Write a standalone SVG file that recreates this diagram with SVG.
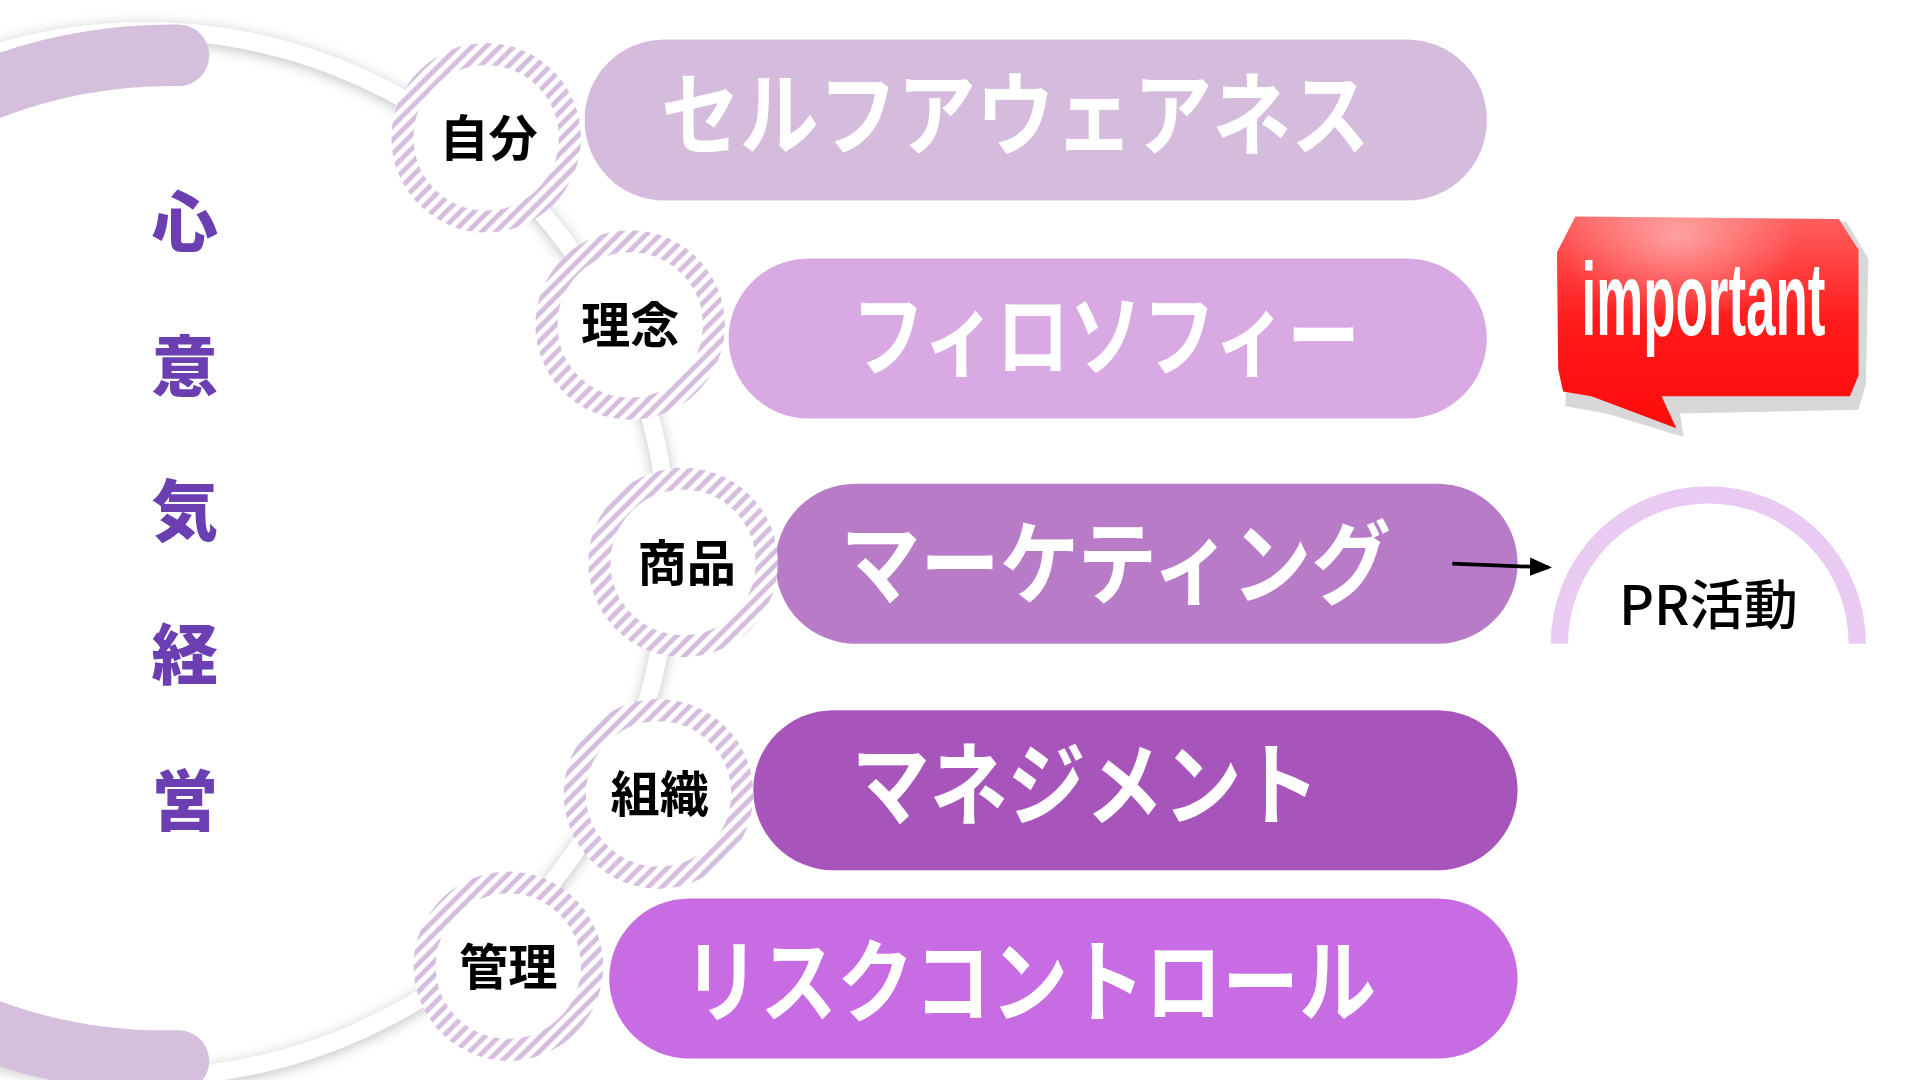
<svg xmlns="http://www.w3.org/2000/svg" width="1920" height="1080" viewBox="0 0 1920 1080">
<defs>
<style>
.lbl{font-family:"Noto Sans CJK JP",sans-serif;font-weight:700;font-size:40px;fill:#000;text-anchor:middle}
.pt{font-family:"Noto Sans CJK JP",sans-serif;font-weight:700;font-size:74px;fill:#fff}
.vt{font-family:"Noto Sans CJK JP",sans-serif;font-weight:900;font-size:54px;fill:#6b3fb2;text-anchor:middle}
.hc{fill:#fff;stroke:url(#hatch);stroke-width:18}
</style>
<pattern id="hatch" width="8" height="8" patternUnits="userSpaceOnUse" patternTransform="rotate(45)">
<rect width="8" height="8" fill="#fff"/><rect width="4" height="8" fill="#d6bedf"/>
</pattern>
<filter id="sh" x="-20%" y="-20%" width="140%" height="140%"><feDropShadow dx="0" dy="2" stdDeviation="5" flood-color="#000" flood-opacity="0.25"/></filter>
<linearGradient id="red" x1="0" y1="0" x2="0" y2="1">
<stop offset="0" stop-color="#ff6060"/><stop offset="0.5" stop-color="#ff1a1a"/><stop offset="1" stop-color="#ff0a0a"/>
</linearGradient>
<radialGradient id="hl" cx="0.4" cy="0.1" r="0.4"><stop offset="0" stop-color="#fff" stop-opacity="0.45"/><stop offset="1" stop-color="#fff" stop-opacity="0"/></radialGradient>
<marker id="ar" markerWidth="6" markerHeight="5" refX="5" refY="2.5" orient="auto"><path d="M0,0 L6,2.5 L0,5 z" fill="#000"/></marker>
</defs>
<rect width="1920" height="1080" fill="#fff"/>
<g transform="scale(1.2308)">
<g id="ring">
<circle cx="118" cy="450" r="425" fill="none" stroke="#fff" stroke-width="14" filter="url(#sh)"/>
<path d="M-40,86 A415,415 0 0 1 145,45" fill="none" stroke="#d5bfdc" stroke-width="50" stroke-linecap="round"/>
<path d="M-40,824 A415,415 0 0 0 145,862" fill="none" stroke="#d5bfdc" stroke-width="50" stroke-linecap="round"/>
</g>
<g id="title">
<text class="vt" x="150" y="200">心</text>
<text class="vt" x="150" y="318">意</text>
<text class="vt" x="150" y="435">気</text>
<text class="vt" x="150" y="552">経</text>
<text class="vt" x="150" y="670">営</text>
</g>
<g id="n1"><rect x="475" y="32" width="733" height="131" rx="65" fill="#d5bcdc"/><text class="pt" x="537" y="120" textLength="576" lengthAdjust="spacingAndGlyphs">セルフアウェアネス</text></g>
<g id="n2"><rect x="592" y="210" width="616" height="130" rx="65" fill="#d8a9e2"/><text class="pt" x="692" y="300" textLength="413" lengthAdjust="spacingAndGlyphs">フィロソフィー</text></g>
<g id="n3"><rect x="630" y="393" width="603" height="130" rx="65" fill="#b87bc7"/><text class="pt" x="683" y="485" textLength="447" lengthAdjust="spacingAndGlyphs">マーケティング</text></g>
<g id="n4"><rect x="612" y="577" width="621" height="130" rx="65" fill="#a855bb"/><text class="pt" x="692" y="665" textLength="380" lengthAdjust="spacingAndGlyphs">マネジメント</text></g>
<g id="n5"><rect x="495" y="730" width="738" height="130" rx="65" fill="#c76ce3"/><text class="pt" x="555" y="825" textLength="563" lengthAdjust="spacingAndGlyphs">リスクコントロール</text></g>
<g id="c1"><circle class="hc" cx="395" cy="112" r="68"/><text class="lbl" x="397" y="127">自分</text></g>
<g id="c2"><circle class="hc" cx="512" cy="264" r="68"/><text class="lbl" x="512" y="279">理念</text></g>
<g id="c3"><circle class="hc" cx="555" cy="457" r="68"/><text class="lbl" x="558" y="472">商品</text></g>
<g id="c4"><circle class="hc" cx="535" cy="645" r="68"/><text class="lbl" x="536" y="660">組織</text></g>
<g id="c5"><circle class="hc" cx="413" cy="785" r="68"/><text class="lbl" x="413" y="800">管理</text></g>
<g id="pr">
<path d="M1267,523 A121,121 0 0 1 1509,523" fill="none" stroke="#e8caf3" stroke-width="14"/>
<text x="1388" y="508" font-family="'Noto Sans CJK JP',sans-serif" font-weight="500" font-size="44" text-anchor="middle">PR活動</text>
</g>
<g id="important">
<path d="M1272,190 L1290,177 L1500,180 L1518,210 L1516,312 L1510,333 L1365,336 L1368,355 L1305,336 L1272,330 Z" fill="#d8d8d8"/>
<path d="M1265,205 L1280,176 L1494,178 L1510,203 L1510,305 L1503,322 L1350,322 L1362,348 L1293,322 L1270,318 L1266,300 Z" fill="url(#red)"/>
<path d="M1265,205 L1280,176 L1494,178 L1510,203 L1510,305 L1503,322 L1350,322 L1362,348 L1293,322 L1270,318 L1266,300 Z" fill="url(#hl)"/>
<text x="1285" y="272" font-family="'Liberation Sans',sans-serif" font-weight="700" font-size="84" fill="#fff" textLength="198" lengthAdjust="spacingAndGlyphs">important</text>
</g>
<g id="connectors">
<line x1="1180" y1="458" x2="1258" y2="461" stroke="#000" stroke-width="3" marker-end="url(#ar)"/>
</g>
</g>
</svg>
